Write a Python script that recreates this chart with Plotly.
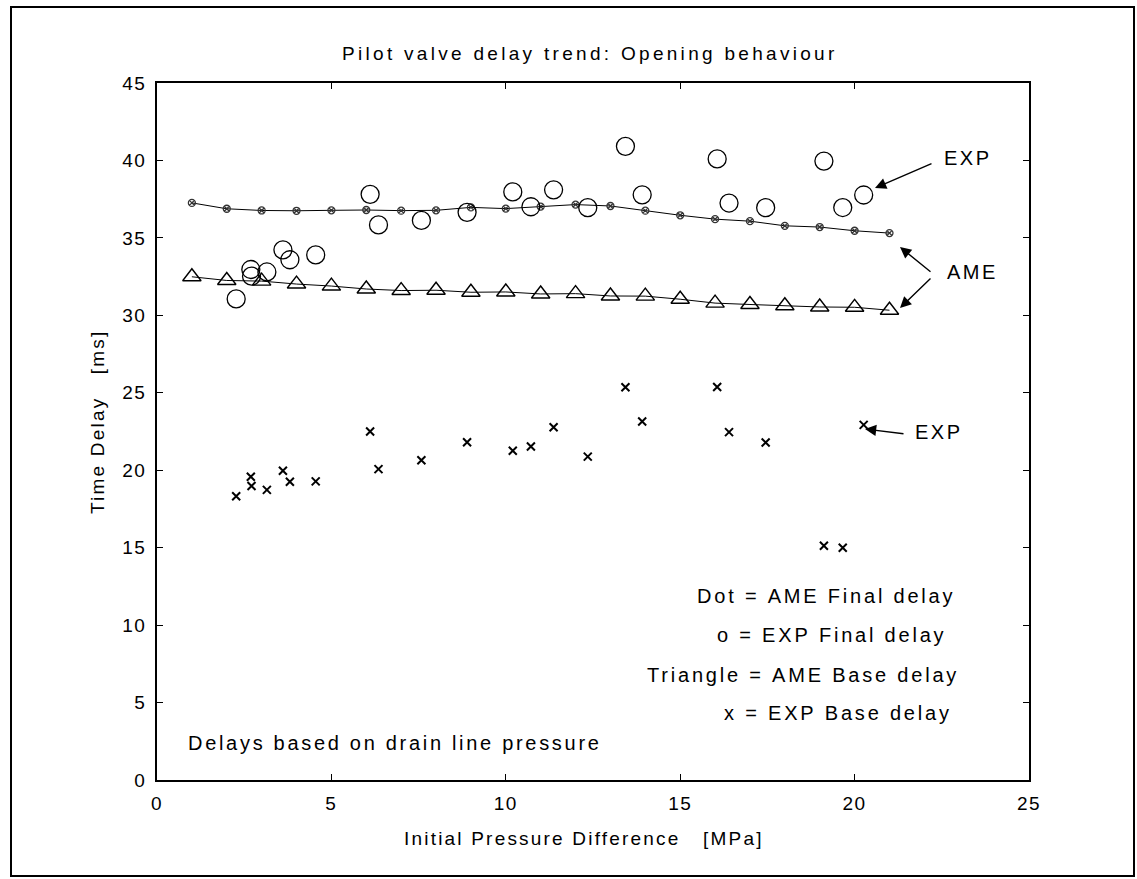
import plotly.graph_objects as go

# AME simulation: pressures and delays
ame_pressure = [1, 2, 3, 4, 5, 6, 7, 8, 9, 10, 11, 12, 13, 14, 15, 16, 17, 18, 19, 20, 21]
ame_final = [37.26, 36.88, 36.77, 36.75, 36.78, 36.80, 36.76, 36.78, 36.97, 36.89, 37.02,
             37.15, 37.06, 36.76, 36.46, 36.21, 36.08, 35.78, 35.70, 35.46, 35.31]
ame_base = [32.49, 32.25, 32.21, 32.02, 31.89, 31.70, 31.60, 31.62, 31.49, 31.51, 31.38,
            31.40, 31.25, 31.24, 31.04, 30.79, 30.70, 30.62, 30.54, 30.52, 30.33]

# Experimental measurements
exp_pressure = [2.27, 2.69, 2.71, 3.15, 3.61, 3.81, 4.55, 6.11, 6.35, 7.58, 8.89, 10.20,
                10.72, 11.37, 12.35, 13.43, 13.91, 16.06, 16.40, 17.45, 19.12, 19.66, 20.26]
exp_final = [31.06, 32.96, 32.53, 32.80, 34.23, 33.59, 33.90, 37.81, 35.84, 36.13, 36.65, 37.97,
             37.01, 38.10, 36.95, 40.91, 37.78, 40.10, 37.25, 36.95, 39.96, 36.96, 37.77]
exp_base = [18.32, 19.58, 18.98, 18.73, 19.97, 19.26, 19.28, 22.50, 20.07, 20.64, 21.81, 21.26,
            21.53, 22.77, 20.88, 25.36, 23.15, 25.37, 22.46, 21.79, 15.12, 15.00, 22.93]

x_ticks = [0, 5, 10, 15, 20, 25]
y_ticks = [0, 5, 10, 15, 20, 25, 30, 35, 40, 45]

legend_lines = ["Dot = AME Final delay", "o = EXP Final delay",
                "Triangle = AME Base delay", "x = EXP Base delay"]

FONT = "Liberation Sans, Arial, Helvetica, sans-serif"
W, H = 1137, 879
L, R, T, B = 157, 1029, 83, 780


def sp(s, ls):
    s = s.replace(" ", "&nbsp;")
    return f'<span style="letter-spacing:{ls}px">{s}</span>'


def fx(xp):
    return (xp - L) / (R - L)


def fy(yp):
    return (B - yp) / (B - T)


def label(txt, xp, yp, size, ls, xanchor="center", angle=0):
    return dict(text=sp(txt, ls), x=fx(xp), y=fy(yp), xref="paper", yref="paper",
                xanchor=xanchor, yanchor="middle", textangle=angle, showarrow=False,
                font=dict(size=size, family=FONT, color="black"))


fig = go.Figure()

fig.add_trace(go.Scatter(
    x=ame_pressure, y=ame_final, mode="lines+markers",
    line=dict(color="black", width=1),
    marker=dict(symbol="circle-x-open", size=7, color="#333", line=dict(width=1.3, color="#333")),
    showlegend=False))

fig.add_trace(go.Scatter(
    x=ame_pressure, y=ame_base, mode="lines+markers",
    line=dict(color="black", width=1),
    marker=dict(symbol="triangle-up-open", size=16, color="black", line=dict(width=1.4, color="black")),
    showlegend=False))

fig.add_trace(go.Scatter(
    x=exp_pressure, y=exp_final, mode="markers",
    marker=dict(symbol="circle-open", size=18, color="black", line=dict(width=1.3, color="black")),
    showlegend=False))

fig.add_trace(go.Scatter(
    x=exp_pressure, y=exp_base, mode="markers",
    marker=dict(symbol="x-thin-open", size=8, color="black", line=dict(width=2, color="black")),
    showlegend=False))

annotations = [
    label("Pilot valve delay trend: Opening behaviour", 590, 53, 19, 3.3),
    label("Initial Pressure Difference   [MPa]", 584, 838, 19, 2.2),
    label("Time Delay   [ms]", 97, 422, 19, 2.2, angle=-90),
    label("Delays based on drain line pressure", 186, 743, 20, 2.7, xanchor="left"),
]

# Marker key, right aligned
for txt, xr, yc in zip(legend_lines, [957, 948, 961, 954], [596, 635, 675, 713]):
    annotations.append(label(txt, xr, yc, 20, 2.8, xanchor="right"))

# Series callouts
for txt, xc, yc in [("EXP", 968, 158), ("AME", 972, 272), ("EXP", 939, 432)]:
    annotations.append(label(txt, xc, yc, 20, 2.5))

for (tx, ty), (hx, hy) in [((933, 163), (875, 188)), ((932, 273), (900, 247)),
                           ((932, 277), (900, 308)), ((905, 434), (865, 429))]:
    annotations.append(dict(text="", x=fx(hx), y=fy(hy), xref="paper", yref="paper",
                            ax=tx - hx, ay=ty - hy, showarrow=True, arrowhead=2,
                            arrowsize=1.6, arrowwidth=1.4, arrowcolor="black", standoff=0))

fig.update_layout(
    width=W, height=H,
    margin=dict(l=L, r=W - R, t=T, b=H - B, pad=0),
    paper_bgcolor="white", plot_bgcolor="white",
    font=dict(family=FONT, color="black"),
    annotations=annotations,
    shapes=[dict(type="rect", xref="paper", yref="paper",
                 x0=fx(11), x1=fx(1134), y0=fy(876), y1=fy(7),
                 line=dict(color="black", width=2))],
)

fig.update_xaxes(range=[0, 25], tickvals=x_ticks, ticktext=[sp(str(v), 1.5) for v in x_ticks],
                 ticks="inside", ticklen=6, tickwidth=1, tickcolor="black",
                 showline=True, linecolor="black", linewidth=1.5, mirror="ticks",
                 showgrid=False, zeroline=False, ticklabelstandoff=5,
                 tickfont=dict(size=19, family=FONT, color="black"))
fig.update_yaxes(range=[0, 45], tickvals=y_ticks, ticktext=[sp(str(v), 1.5) for v in y_ticks],
                 ticks="inside", ticklen=6, tickwidth=1, tickcolor="black",
                 showline=True, linecolor="black", linewidth=1.5, mirror="ticks",
                 showgrid=False, zeroline=False, ticklabelstandoff=5,
                 tickfont=dict(size=19, family=FONT, color="black"))

fig.write_html("out.html")
